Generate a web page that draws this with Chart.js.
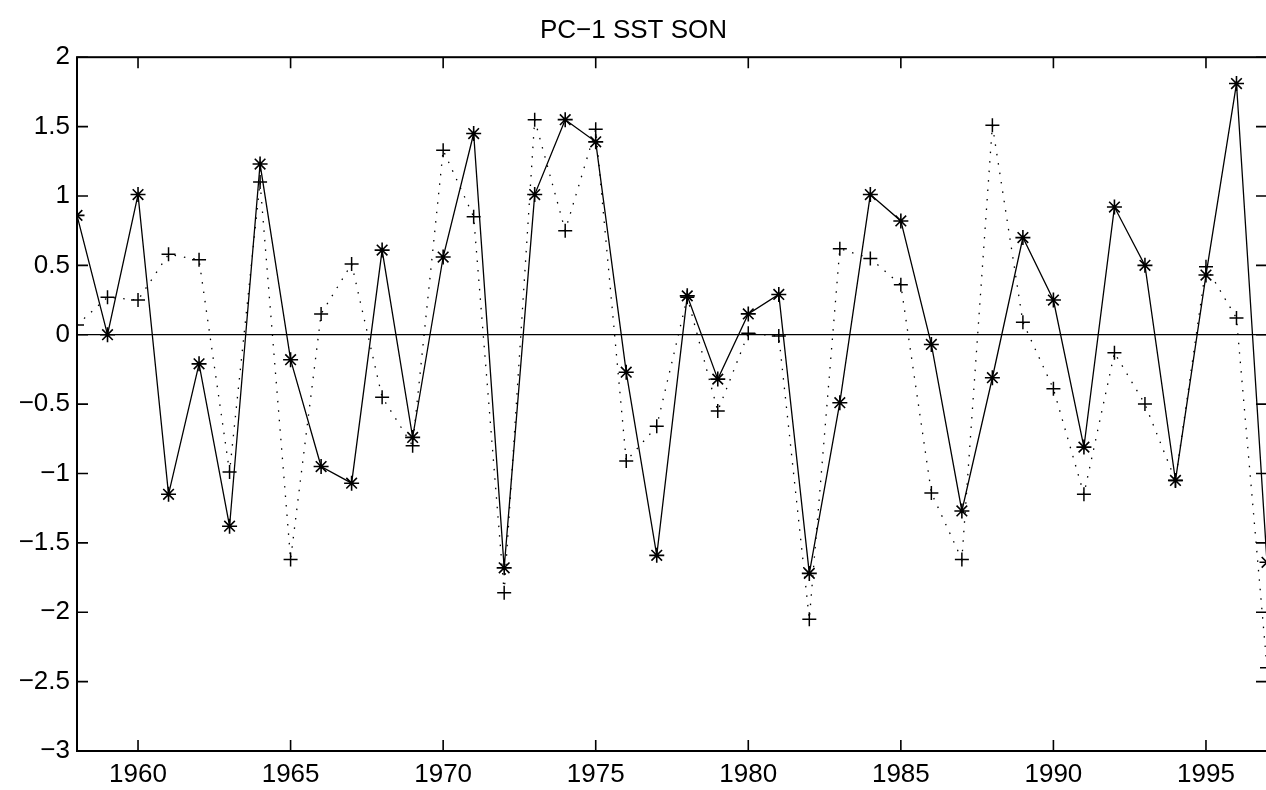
<!DOCTYPE html>
<html>
<head>
<meta charset="utf-8">
<script src="https://cdn.jsdelivr.net/npm/chart.js@4.4.1/dist/chart.umd.min.js"></script>
<style>
  html, body { margin: 0; padding: 0; background: #fff; overflow: hidden; }
  #wrap { width: 1280px; height: 790px; }
</style>
</head>
<body>
<div id="wrap"><canvas id="pcChart" width="1280" height="790"></canvas></div>
<script>
// values
const years = [1958, 1959, 1960, 1961, 1962, 1963, 1964, 1965, 1966, 1967,
               1968, 1969, 1970, 1971, 1972, 1973, 1974, 1975, 1976, 1977,
               1978, 1979, 1980, 1981, 1982, 1983, 1984, 1985, 1986, 1987,
               1988, 1989, 1990, 1991, 1992, 1993, 1994, 1995, 1996, 1997];
const starValues = [0.86, 0.00, 1.01, -1.15, -0.21, -1.38, 1.23, -0.18, -0.95, -1.07,
                    0.61, -0.74, 0.56, 1.45, -1.68, 1.01, 1.55, 1.39, -0.27, -1.59,
                    0.28, -0.32, 0.15, 0.29, -1.72, -0.49, 1.01, 0.82, -0.07, -1.27,
                    -0.31, 0.70, 0.25, -0.81, 0.92, 0.50, -1.05, 0.43, 1.81, -1.64];
const plusValues = [0.07, 0.27, 0.25, 0.58, 0.54, -0.99, 1.10, -1.62, 0.15, 0.51,
                    -0.45, -0.80, 1.33, 0.85, -1.86, 1.55, 0.75, 1.48, -0.91, -0.66,
                    0.27, -0.55, 0.01, -0.01, -2.05, 0.62, 0.55, 0.36, -1.14, -1.62,
                    1.51, 0.09, -0.39, -1.15, -0.13, -0.50, -1.05, 0.49, 0.12, -2.40];
const xTicks = [1960, 1965, 1970, 1975, 1980, 1985, 1990, 1995];
const yTicks = [-3, -2.5, -2, -1.5, -1, -0.5, 0, 0.5, 1, 1.5, 2];

const FONT = "'Liberation Sans', Arial, Helvetica, sans-serif";

function toPoints(vals) {
    return years.map((yr, i) => ({ x: yr, y: vals[i] }));
}

// frame, inward tick marks and the zero line, like the original figure
const framePlugin = {
    id: "frame",
    afterDraw(chart) {
        const ctx = chart.ctx;
        const a = chart.chartArea;
        const xs = chart.scales.x, ys = chart.scales.y;
        const tl = 11;
        ctx.save();
        ctx.strokeStyle = "#000";
        ctx.lineWidth = 1.3;
        const y0 = ys.getPixelForValue(0);
        ctx.beginPath();
        ctx.moveTo(a.left, y0);
        ctx.lineTo(a.right, y0);
        ctx.stroke();

        ctx.lineWidth = 1.6;
        ctx.beginPath();
        xTicks.forEach(v => {
            const px = xs.getPixelForValue(v);
            ctx.moveTo(px, a.bottom); ctx.lineTo(px, a.bottom - tl);
            ctx.moveTo(px, a.top); ctx.lineTo(px, a.top + tl);
        });
        yTicks.forEach(v => {
            const py = ys.getPixelForValue(v);
            ctx.moveTo(a.left, py); ctx.lineTo(a.left + tl, py);
            ctx.moveTo(a.right, py); ctx.lineTo(a.right - tl, py);
        });
        ctx.stroke();

        ctx.lineWidth = 2;
        ctx.strokeRect(a.left, a.top, a.right - a.left, a.bottom - a.top);
        ctx.restore();
    }
};

const ctx = document.getElementById("pcChart").getContext("2d");
new Chart(ctx, {
    type: "line",
    data: {
        datasets: [
            {
                label: "plus",
                data: toPoints(plusValues),
                borderColor: "#000",
                borderWidth: 1.3,
                borderDash: [1.5, 8],
                pointStyle: "cross",
                pointRadius: 7,
                pointBorderWidth: 1.5,
                pointBorderColor: "#000",
                pointBackgroundColor: "#000",
                tension: 0,
                clip: 0
            },
            {
                label: "star",
                data: toPoints(starValues),
                borderColor: "#000",
                borderWidth: 1.3,
                pointStyle: "star",
                pointRadius: 7.5,
                pointBorderWidth: 1.6,
                pointBorderColor: "#000",
                pointBackgroundColor: "#000",
                tension: 0,
                clip: 0
            }
        ]
    },
    options: {
        responsive: false,
        animation: false,
        layout: { padding: { left: 0, right: 13, top: 0, bottom: 0 } },
        plugins: {
            legend: { display: false },
            tooltip: { enabled: false },
            title: {
                display: true,
                text: "PC\u22121 SST SON",
                color: "#000",
                font: { family: FONT, size: 26, weight: "normal" },
                padding: { top: 15, bottom: 11 }
            }
        },
        scales: {
            x: {
                type: "linear",
                min: 1958,
                max: 1997,
                afterBuildTicks: s => { s.ticks = xTicks.map(v => ({ value: v })); },
                afterFit: s => { s.height = 39; },
                grid: { display: false, drawTicks: false },
                border: { display: false },
                ticks: {
                    color: "#000",
                    padding: 8,
                    maxRotation: 0,
                    font: { family: FONT, size: 26 },
                    callback: v => String(v)
                }
            },
            y: {
                type: "linear",
                min: -3,
                max: 2,
                afterBuildTicks: s => { s.ticks = yTicks.map(v => ({ value: v })); },
                afterFit: s => { s.width = 77; },
                grid: { display: false, drawTicks: false },
                border: { display: false },
                ticks: {
                    color: "#000",
                    padding: 7,
                    font: { family: FONT, size: 26 },
                    callback: v => String(v).replace("-", "\u2212")
                }
            }
        }
    },
    plugins: [framePlugin]
});
</script>
</body>
</html>
